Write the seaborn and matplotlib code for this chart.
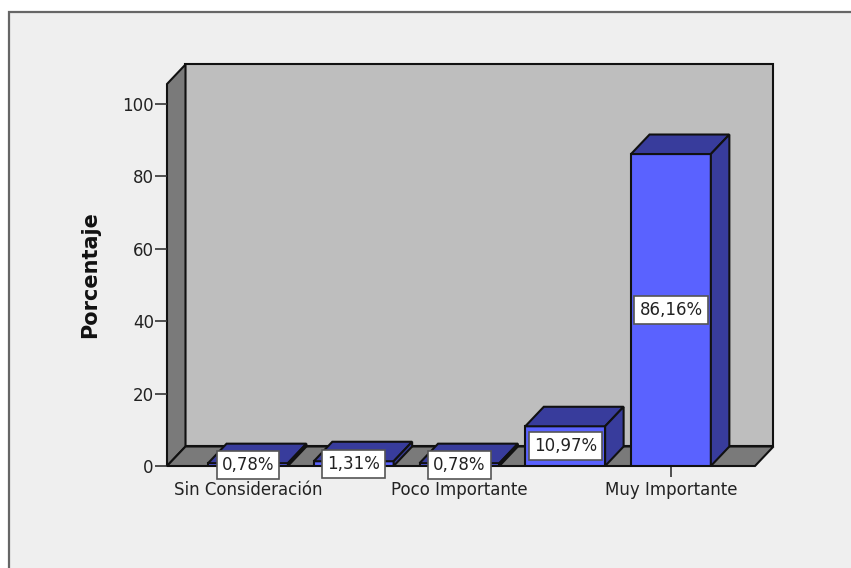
import matplotlib.pyplot as plt
from matplotlib.patches import Polygon, Rectangle
import seaborn as sns

# Values
positions = [0, 1, 2, 3, 4]
percentages = [0.78, 1.31, 0.78, 10.97, 86.16]
value_labels = ["0,78%", "1,31%", "0,78%", "10,97%", "86,16%"]
tick_labels = ["Sin Consideración", "", "Poco Importante", "", "Muy Importante"]
y_ticks = [0, 20, 40, 60, 80, 100]

BG = "#efefef"
BAR = "#5a62ff"
BAR_DARK = "#383c9c"
WALL = "#bebebe"
SIDE = "#7a7a7a"
LINE = "#111111"

W, H = 851, 568
plt.rcParams["font.family"] = ["DejaVu Sans"]

fig = plt.figure(figsize=(W / 100, H / 100), dpi=100, facecolor="white")
fig.add_artist(Rectangle((9 / W, -0.01), 1, 1 - 12 / H + 0.01, transform=fig.transFigure,
                         facecolor=BG, edgecolor="#666666", linewidth=1.6, zorder=-1))

# axes = front plane of the 3D box
ax = fig.add_axes([167 / W, 1 - 466 / H, 588 / W, 382 / H])
ax.patch.set_visible(False)

sns.barplot(x=positions, y=percentages, ax=ax, color=BAR, saturation=1, width=0.755,
            edgecolor=LINE, linewidth=1.5, zorder=4)

x0, x1 = -0.766, 4.795
y0, y1 = 0, 105.5
ax.set_xlim(x0, x1)
ax.set_ylim(y0, y1)

# depth of the box, in data units
dx = 18.5 / 105.75
dy = 19.5 / 3.62

for pts, col, z in [
    ([(x0 + dx, dy), (x1 + dx, dy), (x1 + dx, y1 + dy), (x0 + dx, y1 + dy)], WALL, 1),
    ([(x0, y0), (x0 + dx, dy), (x0 + dx, y1 + dy), (x0, y1)], SIDE, 1),
    ([(x0, y0), (x1, y0), (x1 + dx, dy), (x0 + dx, dy)], SIDE, 2),
]:
    ax.add_patch(Polygon(pts, closed=True, facecolor=col, edgecolor=LINE, linewidth=1.5,
                         clip_on=False, zorder=z))

# depth faces of the bars and their labels
for bar, label in zip(ax.patches[:5], value_labels):
    left = bar.get_x()
    right = left + bar.get_width()
    h = bar.get_height()
    top = [(left, h), (right, h), (right + dx, h + dy), (left + dx, h + dy)]
    side = [(right, 0), (right + dx, dy), (right + dx, h + dy), (right, h)]
    for pts in (top, side):
        ax.add_patch(Polygon(pts, closed=True, facecolor=BAR_DARK, edgecolor=LINE,
                             linewidth=1.5, clip_on=False, zorder=4))
    ax.text((left + right) / 2, h / 2, label, ha="center", va="center", fontsize=12,
            color="#222222", zorder=6, clip_on=False,
            bbox=dict(boxstyle="square,pad=0.3", facecolor="white", edgecolor="#555555",
                      linewidth=1.2))

for s in ax.spines.values():
    s.set_visible(False)

ax.set_yticks(y_ticks)
ax.set_xticks(positions)
ax.set_xticklabels(tick_labels)
ax.tick_params(axis="y", length=8.5, width=1.2, color="#333333", labelsize=12,
               labelcolor="#222222", pad=1)
ax.tick_params(axis="x", length=8, width=1.2, color="#333333", labelsize=12,
               labelcolor="#222222", pad=3)
for tick in ax.xaxis.get_major_ticks()[:-1]:
    tick.tick1line.set_visible(False)

ax.set_xlabel("")
ax.set_ylabel("Porcentaje", fontsize=15, fontweight="bold", color="#111111")
ax.yaxis.set_label_coords((100 - 167) / 588, (466 - 275) / 382)

fig.savefig("out.png", dpi=100, facecolor=fig.get_facecolor())
